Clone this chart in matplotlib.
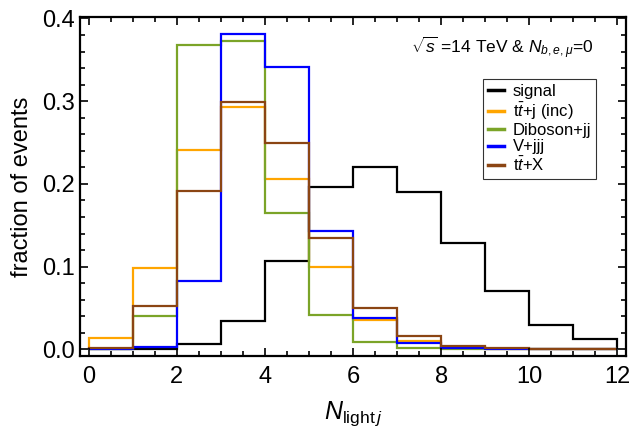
import numpy as np
import matplotlib
matplotlib.use('agg')
import matplotlib.pyplot as plt
from matplotlib.ticker import MultipleLocator

plt.rcParams['font.family'] = ['Liberation Sans', 'DejaVu Sans']
plt.rcParams['mathtext.fontset'] = 'custom'
plt.rcParams['mathtext.rm'] = 'Liberation Sans'
plt.rcParams['mathtext.it'] = 'Liberation Sans:italic'

# bin edges of the light-jet multiplicity
edges = np.arange(0, 13)

signal = [0.000, 0.001, 0.006, 0.034, 0.107, 0.196, 0.221, 0.190, 0.129, 0.070, 0.029, 0.012]
ttj_inc = [0.014, 0.098, 0.241, 0.293, 0.206, 0.100, 0.035, 0.010, 0.003, 0.001, 0.001, 0.000]
diboson = [0.001, 0.040, 0.368, 0.373, 0.165, 0.042, 0.009, 0.002, 0.001, 0.000, 0.000, 0.000]
vjjj = [0.0005, 0.003, 0.083, 0.381, 0.341, 0.143, 0.038, 0.008, 0.002, 0.001, 0.001, 0.000]
ttx = [0.002, 0.052, 0.191, 0.299, 0.249, 0.135, 0.050, 0.016, 0.004, 0.002, 0.001, 0.001]

series = [
    (signal, 'signal', 'black'),
    (ttj_inc, r't$\bar{t}$+j (inc)', '#FFA500'),
    (diboson, 'Diboson+jj', '#7BA428'),
    (vjjj, 'V+jjj', '#0000FF'),
    (ttx, r't$\bar{t}$+X', '#8B4513'),
]

fig = plt.figure(figsize=(6.3, 4.3), dpi=100)
ax = fig.add_axes([0.127, 0.172, 0.867, 0.789])

handles = []
for vals, label, color in series:
    ax.stairs(vals, edges, color=color, linewidth=1.6)
    h, = ax.plot([], [], color=color, linewidth=2.5, label=label)
    handles.append(h)

ax.set_xlim(-0.2, 12.2)
ax.set_ylim(-0.008, 0.402)

ax.xaxis.set_major_locator(MultipleLocator(2))
ax.xaxis.set_minor_locator(MultipleLocator(0.5))
ax.yaxis.set_major_locator(MultipleLocator(0.1))
ax.yaxis.set_minor_locator(MultipleLocator(0.02))
ax.yaxis.set_major_formatter(plt.FuncFormatter(lambda v, p: f'{v:.1f}'))

ax.tick_params(which='both', direction='in', top=True, right=True, width=1.2)
ax.tick_params(which='major', length=6, labelsize=17)
ax.tick_params(axis='x', which='major', pad=7)
ax.tick_params(axis='y', which='major', pad=4)
ax.tick_params(which='minor', length=3.5)
for s in ax.spines.values():
    s.set_linewidth(1.6)

ax.set_ylabel('fraction of events', fontsize=17, labelpad=6)
ax.set_xlabel(r'$N_{\mathrm{light}\,j}$', fontsize=18, labelpad=8)

ax.text(0.939, 0.908, r'$\sqrt{s}$ =14 TeV & $N_{b,e,\mu}$=0', transform=ax.transAxes,
        ha='right', va='center', fontsize=12.5)

leg = ax.legend(handles=handles, loc='upper right', bbox_to_anchor=(0.945, 0.816),
                fontsize=12, frameon=True, fancybox=False, handlelength=1.0,
                handletextpad=0.5, labelspacing=0.08, borderpad=0.3, borderaxespad=0)
leg.get_frame().set_edgecolor('black')
leg.get_frame().set_linewidth(0.8)

fig.savefig('out.png', dpi=100, facecolor='white')
